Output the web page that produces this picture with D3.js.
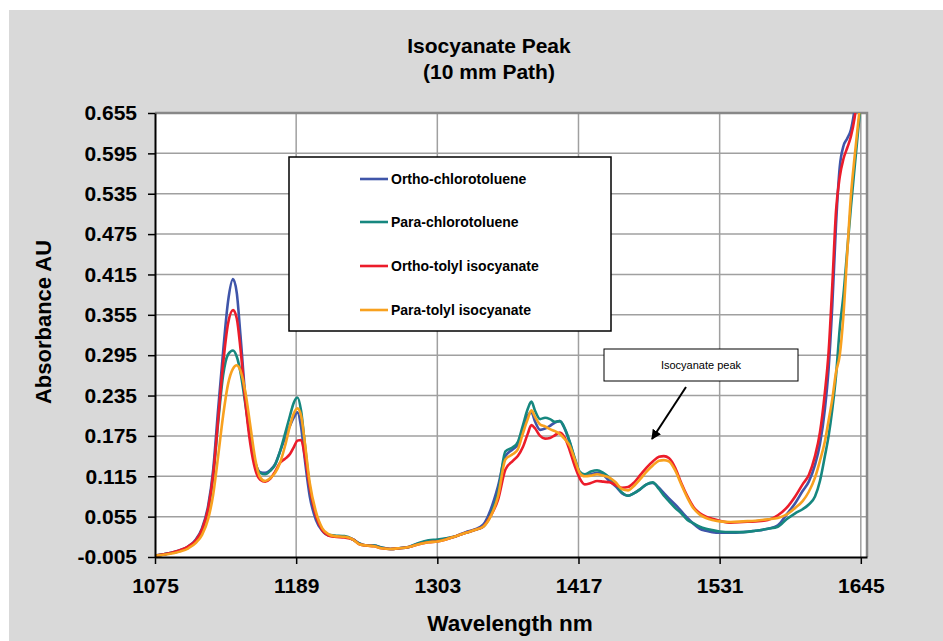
<!DOCTYPE html>
<html>
<head>
<meta charset="utf-8">
<script src="https://cdn.jsdelivr.net/npm/d3@7"></script>
<style>
  html, body { margin: 0; padding: 0; background: #ffffff; }
  svg { display: block; }
  text { font-family: "Liberation Sans", Arial, sans-serif; }
</style>
</head>
<body>
<svg id="chart" width="943" height="641"></svg>
<script>
const titleLines = ["Isocyanate Peak", "(10 mm Path)"];
const xAxisTitle = "Wavelength nm";
const yAxisTitle = "Absorbance AU";
const xTicks = [1075, 1189, 1303, 1417, 1531, 1645];
const yTicks = [-0.005, 0.055, 0.115, 0.175, 0.235, 0.295, 0.355, 0.415, 0.475, 0.535, 0.595, 0.655];
const seriesNames = ["Ortho-chlorotoluene", "Para-chlorotoluene", "Ortho-tolyl isocyanate", "Para-tolyl isocyanate"];
const seriesColors = ["#3f55a9", "#16877f", "#ec1c2a", "#f8a11f"];
const annotationText = "Isocyanate peak";

const wavelengths = [
  1075,1085,1095,1102,1108,1113,1118,1122,1126,1130,
  1134,1138,1141,1144,1148,1152,1156,1160,1164,1168,
  1172,1176,1180,1184,1187,1190,1193,1196,1200,1205,
  1210,1215,1220,1228,1235,1240,1246,1252,1258,1265,
  1272,1280,1288,1296,1303,1310,1318,1326,1333,1340,
  1346,1352,1358,1364,1368,1372,1376,1379,1382,1386,
  1390,1394,1398,1402,1406,1410,1414,1418,1422,1427,
  1432,1437,1442,1447,1452,1457,1462,1467,1472,1477,
  1482,1486,1490,1495,1500,1505,1510,1515,1520,1525,
  1531,1540,1550,1560,1570,1578,1585,1592,1598,1603,
  1608,1612,1616,1619,1622,1625,1628,1631,1634,1637,
  1640,1643,1646
];

const orthoChlorotoluene = [
  -0.003,0.000,0.005,0.011,0.021,0.038,0.072,0.125,0.215,0.300,
  0.375,0.408,0.388,0.325,0.232,0.170,0.135,0.121,0.120,0.124,
  0.133,0.152,0.172,0.190,0.202,0.210,0.188,0.140,0.085,0.050,
  0.034,0.027,0.026,0.025,0.021,0.015,0.012,0.012,0.009,0.007,
  0.008,0.010,0.015,0.019,0.020,0.022,0.026,0.032,0.036,0.043,
  0.065,0.100,0.145,0.155,0.162,0.185,0.205,0.210,0.196,0.184,
  0.186,0.190,0.195,0.197,0.185,0.165,0.140,0.120,0.116,0.118,
  0.120,0.117,0.108,0.100,0.090,0.086,0.090,0.096,0.103,0.105,
  0.098,0.090,0.082,0.073,0.063,0.053,0.044,0.037,0.034,0.032,
  0.031,0.031,0.032,0.034,0.037,0.042,0.058,0.075,0.093,0.107,
  0.132,0.163,0.215,0.275,0.370,0.490,0.575,0.606,0.617,0.630,
  0.660,0.700,0.750
];

const paraChlorotoluene = [
  -0.003,0.000,0.004,0.010,0.019,0.035,0.066,0.115,0.195,0.265,
  0.296,0.302,0.293,0.270,0.222,0.172,0.135,0.120,0.118,0.123,
  0.132,0.152,0.178,0.205,0.224,0.232,0.212,0.163,0.098,0.057,
  0.036,0.028,0.027,0.026,0.021,0.015,0.012,0.012,0.009,0.007,
  0.008,0.010,0.016,0.020,0.021,0.023,0.026,0.031,0.035,0.040,
  0.058,0.090,0.152,0.158,0.166,0.190,0.215,0.226,0.212,0.200,
  0.202,0.200,0.196,0.197,0.186,0.166,0.142,0.122,0.118,0.122,
  0.124,0.120,0.113,0.103,0.091,0.086,0.090,0.096,0.103,0.106,
  0.096,0.086,0.078,0.068,0.060,0.050,0.045,0.040,0.037,0.035,
  0.033,0.032,0.032,0.034,0.037,0.040,0.051,0.060,0.066,0.073,
  0.085,0.108,0.145,0.175,0.215,0.265,0.335,0.385,0.450,0.515,
  0.574,0.632,0.690
];

const orthoTolylIsocyanate = [
  -0.003,0.000,0.005,0.011,0.020,0.036,0.068,0.118,0.200,0.282,
  0.342,0.362,0.350,0.305,0.225,0.163,0.125,0.110,0.107,0.111,
  0.122,0.135,0.141,0.148,0.158,0.168,0.169,0.145,0.098,0.056,
  0.035,0.027,0.025,0.024,0.021,0.014,0.012,0.011,0.008,0.007,
  0.008,0.010,0.014,0.017,0.018,0.021,0.026,0.031,0.035,0.040,
  0.056,0.080,0.125,0.138,0.145,0.158,0.178,0.191,0.186,0.175,
  0.171,0.172,0.176,0.180,0.172,0.153,0.130,0.112,0.103,0.105,
  0.108,0.107,0.106,0.102,0.098,0.099,0.106,0.117,0.128,0.137,
  0.144,0.145,0.142,0.128,0.105,0.085,0.069,0.060,0.055,0.052,
  0.049,0.046,0.047,0.048,0.050,0.057,0.068,0.085,0.103,0.117,
  0.145,0.180,0.240,0.300,0.400,0.510,0.560,0.587,0.603,0.620,
  0.648,0.690,0.740
];

const paraTolylIsocyanate = [
  -0.003,-0.001,0.003,0.008,0.016,0.028,0.052,0.088,0.145,0.205,
  0.252,0.275,0.280,0.272,0.240,0.190,0.140,0.113,0.108,0.112,
  0.120,0.135,0.160,0.190,0.208,0.216,0.205,0.165,0.105,0.062,
  0.038,0.029,0.026,0.025,0.021,0.014,0.012,0.011,0.008,0.007,
  0.008,0.010,0.014,0.017,0.018,0.021,0.026,0.031,0.035,0.040,
  0.055,0.085,0.140,0.148,0.155,0.178,0.200,0.213,0.203,0.192,
  0.189,0.185,0.182,0.178,0.170,0.160,0.140,0.120,0.115,0.116,
  0.118,0.116,0.113,0.106,0.096,0.094,0.101,0.111,0.122,0.131,
  0.138,0.139,0.137,0.124,0.103,0.083,0.067,0.058,0.053,0.050,
  0.048,0.047,0.048,0.049,0.051,0.053,0.058,0.068,0.078,0.092,
  0.113,0.138,0.167,0.198,0.230,0.270,0.295,0.355,0.445,0.532,
  0.590,0.643,0.690
];

const seriesValues = [orthoChlorotoluene, paraChlorotoluene, orthoTolylIsocyanate, paraTolylIsocyanate];

// ---------- drawing ----------
const svg = d3.select("#chart");
const W = 943, H = 641;
const plot = { left: 155, right: 867, top: 113, bottom: 557 };

svg.append("rect").attr("x", 0).attr("y", 0).attr("width", W).attr("height", H).attr("fill", "#ffffff");
svg.append("rect").attr("x", 9).attr("y", 10).attr("width", W - 9).attr("height", H - 10).attr("fill", "#d9d9d9");

const x = d3.scaleLinear().domain([1075, 1650]).range([plot.left, plot.right]);
const y = d3.scaleLinear().domain([-0.005, 0.655]).range([plot.bottom, plot.top]);

svg.append("rect")
  .attr("x", plot.left).attr("y", plot.top)
  .attr("width", plot.right - plot.left).attr("height", plot.bottom - plot.top)
  .attr("fill", "#ffffff");

// grid
const grid = svg.append("g");
grid.selectAll("line.h").data(yTicks.slice(1, -1)).join("line")
  .attr("x1", plot.left).attr("x2", plot.right)
  .attr("y1", d => y(d)).attr("y2", d => y(d))
  .attr("stroke", "#a0a0a0").attr("stroke-width", 1.5);
grid.selectAll("line.v").data(xTicks.slice(1)).join("line")
  .attr("x1", d => x(d)).attr("x2", d => x(d))
  .attr("y1", plot.top).attr("y2", plot.bottom)
  .attr("stroke", "#a0a0a0").attr("stroke-width", 1.5);

// top/right border
svg.append("path")
  .attr("d", `M${plot.left},${plot.top}H${plot.right}V${plot.bottom}`)
  .attr("fill", "none").attr("stroke", "#888888").attr("stroke-width", 2.5);

// clip
svg.append("clipPath").attr("id", "clip").append("rect")
  .attr("x", plot.left).attr("y", plot.top)
  .attr("width", plot.right - plot.left).attr("height", plot.bottom - plot.top);

const line = d3.line()
  .x((d, i) => x(wavelengths[i]))
  .y(d => y(d))
  .curve(d3.curveMonotoneX);

const lines = svg.append("g").attr("clip-path", "url(#clip)");
seriesValues.forEach((vals, k) => {
  lines.append("path")
    .datum(vals)
    .attr("d", line)
    .attr("fill", "none")
    .attr("stroke", seriesColors[k])
    .attr("stroke-width", 2.6)
    .attr("stroke-linejoin", "round");
});

// axes
const yAxis = d3.axisLeft(y).tickValues(yTicks).tickFormat(d3.format(".3f"))
  .tickSize(7).tickSizeOuter(0).tickPadding(11);
const gy = svg.append("g").attr("transform", `translate(${plot.left},0)`).call(yAxis);
gy.select(".domain").attr("stroke", "#000").attr("stroke-width", 2);
gy.selectAll(".tick line").attr("stroke", "#000").attr("stroke-width", 1.5);
gy.selectAll(".tick text")
  .attr("font-family", "'Liberation Sans', Arial, sans-serif")
  .attr("font-size", 21).attr("font-weight", "bold").attr("fill", "#000")
  .text(d => d3.format(".3f")(d).replace("−", "-"));

const xAxis = d3.axisBottom(x).tickValues(xTicks).tickFormat(d3.format("d"))
  .tickSize(7).tickSizeOuter(0).tickPadding(14);
const gx = svg.append("g").attr("transform", `translate(0,${plot.bottom})`).call(xAxis);
gx.select(".domain").attr("stroke", "#000").attr("stroke-width", 2);
gx.selectAll(".tick line").attr("stroke", "#000").attr("stroke-width", 1.5);
gx.selectAll(".tick text")
  .attr("font-family", "'Liberation Sans', Arial, sans-serif")
  .attr("font-size", 21).attr("font-weight", "bold").attr("fill", "#000");

// titles
const title = svg.append("text")
  .attr("x", 489).attr("y", 53)
  .attr("text-anchor", "middle")
  .attr("font-size", 21).attr("font-weight", "bold").attr("fill", "#000");
titleLines.forEach((t, i) => {
  title.append("tspan").attr("x", 489).attr("y", 53 + i * 26).text(t);
});

svg.append("text")
  .attr("x", 510).attr("y", 631)
  .attr("text-anchor", "middle")
  .attr("font-size", 22.5).attr("font-weight", "bold").attr("fill", "#000")
  .text(xAxisTitle);

svg.append("text")
  .attr("transform", "translate(51,322) rotate(-90)")
  .attr("text-anchor", "middle")
  .attr("font-size", 22).attr("font-weight", "bold").attr("fill", "#000")
  .text(yAxisTitle);

// legend
const legend = svg.append("g");
legend.append("rect")
  .attr("x", 289).attr("y", 157).attr("width", 322).attr("height", 174)
  .attr("fill", "#ffffff").attr("stroke", "#000").attr("stroke-width", 1.5);
const rowY = [179, 222, 266, 310];
seriesNames.forEach((name, k) => {
  legend.append("line")
    .attr("x1", 360).attr("x2", 388).attr("y1", rowY[k]).attr("y2", rowY[k])
    .attr("stroke", seriesColors[k]).attr("stroke-width", 2.6);
  legend.append("text")
    .attr("x", 391).attr("y", rowY[k]).attr("dy", "0.35em")
    .attr("font-size", 14).attr("font-weight", "bold").attr("fill", "#000")
    .text(name);
});

// annotation
svg.append("defs").append("marker")
  .attr("id", "arrow").attr("viewBox", "0 0 10 10")
  .attr("refX", 9).attr("refY", 5)
  .attr("markerWidth", 5).attr("markerHeight", 5)
  .attr("orient", "auto")
  .append("path").attr("d", "M0,0L10,5L0,10z").attr("fill", "#000");

svg.append("rect")
  .attr("x", 604).attr("y", 349).attr("width", 194).attr("height", 32)
  .attr("fill", "#ffffff").attr("stroke", "#000").attr("stroke-width", 1);
svg.append("text")
  .attr("x", 701).attr("y", 365).attr("dy", "0.35em")
  .attr("text-anchor", "middle")
  .attr("font-size", 11).attr("fill", "#000")
  .text(annotationText);
svg.append("line")
  .attr("x1", 686).attr("y1", 387).attr("x2", 652).attr("y2", 439)
  .attr("stroke", "#000").attr("stroke-width", 2)
  .attr("marker-end", "url(#arrow)");
</script>
</body>
</html>
